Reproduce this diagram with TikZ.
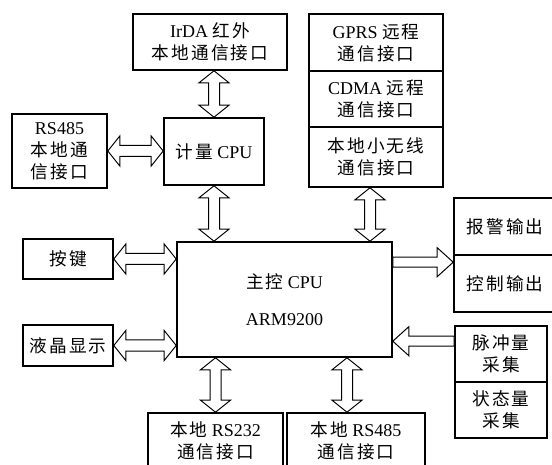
\documentclass[tikz,border=0pt]{standalone}
\usepackage{fontspec}
\setmainfont{Liberation Serif}
\newfontfamily\cjk{Noto Sans CJK SC}[Scale=0.98,LetterSpace=12]
\newcommand\zh[1]{{\cjk #1}}
\usetikzlibrary{calc}
\tikzset{
  box/.style={draw, line width=1.6pt, align=center, inner sep=0pt,
    font=\fontsize{18}{22}\selectfont},
  hollow/.style={draw, line width=1pt, fill=white, line join=miter},
}
% vertical double arrow: #1 top point, #2 bottom point
\newcommand\vdbl[2]{\draw[hollow] let \p1=#1, \p2=#2 in
  (\x1,\y1) -- (\x1+15pt,\y1-12pt) -- (\x1+5.5pt,\y1-12pt) -- (\x1+5.5pt,\y2+12pt)
  -- (\x1+15pt,\y2+12pt) -- (\x1,\y2) -- (\x1-15pt,\y2+12pt) -- (\x1-5.5pt,\y2+12pt)
  -- (\x1-5.5pt,\y1-12pt) -- (\x1-15pt,\y1-12pt) -- cycle;}
% horizontal double arrow: #1 left point, #2 right point
\newcommand\hdbl[2]{\draw[hollow] let \p1=#1, \p2=#2 in
  (\x1,\y1) -- (\x1+12pt,\y1+15pt) -- (\x1+12pt,\y1+5.5pt) -- (\x2-12pt,\y1+5.5pt)
  -- (\x2-12pt,\y1+15pt) -- (\x2,\y1) -- (\x2-12pt,\y1-15pt) -- (\x2-12pt,\y1-5.5pt)
  -- (\x1+12pt,\y1-5.5pt) -- (\x1+12pt,\y1-15pt) -- cycle;}
% single arrow pointing right: #1 tail, #2 tip
\newcommand\rarr[2]{\draw[hollow] let \p1=#1, \p2=#2 in
  (\x1,\y1+5pt) -- (\x2-16pt,\y1+5pt) -- (\x2-16pt,\y1+14.5pt) -- (\x2,\y1)
  -- (\x2-16pt,\y1-14.5pt) -- (\x2-16pt,\y1-5pt) -- (\x1,\y1-5pt) -- cycle;}
% single arrow pointing left: #1 tip, #2 tail
\newcommand\larr[2]{\draw[hollow] let \p1=#1, \p2=#2 in
  (\x1,\y1) -- (\x1+16pt,\y1+14.5pt) -- (\x1+16pt,\y1+5pt) -- (\x2,\y1+5pt)
  -- (\x2,\y1-5pt) -- (\x1+16pt,\y1-5pt) -- (\x1+16pt,\y1-14.5pt) -- cycle;}
\begin{document}
\begin{tikzpicture}[x=1pt,y=-1pt]
\useasboundingbox (0,0) rectangle (552,465);
\clip (0,0) rectangle (552,465);
\fill[white] (0,0) rectangle (552,465);

\node[box, minimum width=154pt, minimum height=56pt] (irda) at (210,42)
  {IrDA \zh{红外}\\\zh{本地通信接口}};
\node[box, minimum width=95pt, minimum height=74pt] (rsl) at (59.5,151)
  {RS485\\\zh{本地通}\\\zh{信接口}};
\node[box, minimum width=100pt, minimum height=67pt] (jl) at (214,151.5)
  {\zh{计量} CPU};

\node[box, minimum width=134pt, minimum height=57pt] (gprs) at (376,42.5)
  {GPRS \zh{远程}\\\zh{通信接口}};
\node[box, minimum width=134pt, minimum height=56pt] (cdma) at (376,99)
  {CDMA \zh{远程}\\\zh{通信接口}};
\node[box, minimum width=134pt, minimum height=60pt] (wx) at (376,157)
  {\zh{本地小无线}\\\zh{通信接口}};

\node[box, minimum width=215pt, minimum height=115pt] (main) at (284.5,299.5)
  {\zh{主控} CPU\\[15pt]ARM9200};

\node[box, minimum width=90pt, minimum height=40pt] (key) at (68,259) {\zh{按键}};
\node[box, minimum width=90pt, minimum height=41pt] (lcd) at (68,345.5) {\zh{液晶显示}};

\node[box, minimum width=102pt, minimum height=57pt] (alarm) at (505,226.5) {\zh{报警输出}};
\node[box, minimum width=102pt, minimum height=57pt] (ctrl) at (505,283.5) {\zh{控制输出}};

\node[box, minimum width=92pt, minimum height=56pt] (pulse) at (501,354) {\zh{脉冲量}\\\zh{采集}};
\node[box, minimum width=92pt, minimum height=56pt] (state) at (501,410) {\zh{状态量}\\\zh{采集}};

\node[box, minimum width=135pt, minimum height=56pt] (rs232) at (215.5,441)
  {\zh{本地} RS232\\\zh{通信接口}};
\node[box, minimum width=138pt, minimum height=56pt] (rsb) at (356,441)
  {\zh{本地} RS485\\\zh{通信接口}};

% connectors
\vdbl{(jl.north |- irda.south)}{(jl.north)}
\hdbl{(rsl.east)}{(rsl.east -| jl.west)}
\vdbl{(jl.south)}{(jl.south |- main.north)}
\coordinate (s1) at ($(wx.south)+(-6,0)$);
\vdbl{(s1)}{(s1 |- main.north)}
\hdbl{(key.east)}{(key.east -| main.west)}
\hdbl{(lcd.east)}{(lcd.east -| main.west)}
\coordinate (r1) at ($(main.north east)+(0,21)$);
\rarr{(r1)}{(r1 -| alarm.west)}
\coordinate (p1) at ($(pulse.north west)+(0,16)$);
\larr{(p1 -| main.east)}{(p1)}
\vdbl{(rs232.north |- main.south)}{(rs232.north)}
\coordinate (b1) at ($(rsb.north)+(-9,0)$);
\vdbl{(b1 |- main.south)}{(b1)}
\end{tikzpicture}
\end{document}
